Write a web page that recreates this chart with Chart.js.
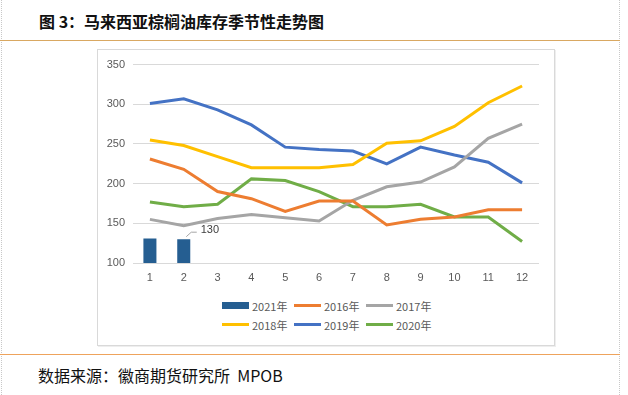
<!DOCTYPE html>
<html>
<head>
<meta charset="utf-8">
<script src="https://cdn.jsdelivr.net/npm/chart.js@4"></script>
<style>
  body { margin: 0; background: #fff; }
  .page { position: relative; width: 628px; height: 395px; overflow: hidden; background: #fff; }
  .edge { position: absolute; top: 0; bottom: 0; left: 1px; width: 617px; border-left: 1px dotted #c8c8c8; border-right: 1px dotted #c8c8c8; }
  .title { position: absolute; left: 39px; top: 9px; font: bold 16px "Noto Sans CJK SC", sans-serif; color: #111; white-space: pre; }
  .rule-top { position: absolute; left: 0; top: 40px; width: 620px; height: 1px; background: #d9a862; }
  .rule-bot { position: absolute; left: 0; top: 354px; width: 620px; height: 1px; background: #eea35c; }
  .box { position: absolute; left: 97px; top: 49px; width: 456px; height: 295px; border: 1px solid #d9d9d9; box-shadow: 1px 1px 0 #eeeeee; }
  .chart-wrap { position: absolute; left: 98px; top: 50px; width: 456px; height: 240px; }
  .legend { position: absolute; left: 222px; top: 297px; display: grid; grid-template-columns: 72px 72px 72px; row-gap: 2px; font: 11px "Noto Sans CJK SC", sans-serif; color: #595959; }
  .legend .item { display: flex; align-items: center; height: 17px; white-space: nowrap; }
  .legend .sw { width: 27px; margin-right: 3px; }
  .footer { position: absolute; left: 38px; top: 363px; font: 16px "Noto Sans CJK SC", sans-serif; color: #111; white-space: pre; }
</style>
</head>
<body>
<div class="page">
  <div class="edge"></div>
  <div class="title">图 3：马来西亚棕榈油库存季节性走势图</div>
  <div class="rule-top"></div>
  <div class="box"></div>
  <div class="chart-wrap"><canvas id="myChart"></canvas></div>
  <div class="legend" id="legend"></div>
  <div class="rule-bot"></div>
  <div class="footer">数据来源：徽商期货研究所  MPOB</div>
</div>
<script>
// 月份
let months = ['1', '2', '3', '4', '5', '6', '7', '8', '9', '10', '11', '12'];

// 各年库存（万吨），读图估计
let y2021 = [131, 130, null, null, null, null, null, null, null, null, null, null];
let y2016 = [231, 218, 190, 181, 165, 178, 178, 148, 155, 158, 167, 167];
let y2017 = [155, 147, 156, 161, 157, 153, 179, 196, 202, 221, 257, 275];
let y2018 = [255, 248, 234, 220, 220, 220, 224, 251, 254, 272, 302, 323];
let y2019 = [301, 307, 293, 274, 246, 243, 241, 225, 246, 236, 227, 201];
let y2020 = [177, 171, 174, 206, 204, 190, 171, 171, 174, 158, 158, 127];

let yTicks = [100, 150, 200, 250, 300, 350];

let names = ['2021年', '2016年', '2017年', '2018年', '2019年', '2020年'];
let colors = ['#255e91', '#ed7d31', '#a5a5a5', '#ffc000', '#4472c4', '#70ad47'];

function lineSet(i, data) {
    return {
        type: 'line',
        label: names[i],
        data: data,
        borderColor: colors[i],
        backgroundColor: colors[i],
        borderWidth: 3,
        pointRadius: 0,
        tension: 0,
        fill: false,
        order: 1
    };
}

// 柱子上的数据标签 130（带引线）
const barLabel = {
    id: 'barLabel',
    afterDatasetsDraw(chart) {
        const meta = chart.getDatasetMeta(0);
        const bar = meta.data[1];
        const ctx = chart.ctx;
        ctx.save();
        ctx.strokeStyle = '#a6a6a6';
        ctx.lineWidth = 1;
        ctx.beginPath();
        ctx.moveTo(bar.x + 2.5, bar.y - 2.5);
        ctx.lineTo(bar.x + 7.5, bar.y - 7);
        ctx.lineTo(bar.x + 13, bar.y - 7);
        ctx.stroke();
        ctx.fillStyle = '#404040';
        ctx.font = '11px "Liberation Sans", sans-serif';
        ctx.textBaseline = 'middle';
        ctx.textAlign = 'left';
        ctx.fillText(String(y2021[1]), bar.x + 17, bar.y - 9);
        ctx.restore();
    }
};

const ctx = document.getElementById('myChart').getContext('2d');
const myChart = new Chart(ctx, {
    type: 'bar',
    data: {
        labels: months,
        datasets: [
            {
                type: 'bar',
                label: names[0],
                data: y2021,
                backgroundColor: colors[0],
                borderWidth: 0,
                barPercentage: 0.385,
                categoryPercentage: 1,
                order: 2
            },
            lineSet(1, y2016),
            lineSet(2, y2017),
            lineSet(3, y2018),
            lineSet(4, y2019),
            lineSet(5, y2020)
        ]
    },
    options: {
        responsive: true,
        maintainAspectRatio: false,
        animation: false,
        layout: { padding: { top: 14, right: 15, left: 0, bottom: 0 } },
        plugins: {
            legend: { display: false },
            tooltip: { enabled: false }
        },
        scales: {
            x: {
                offset: true,
                grid: { display: false, drawTicks: false },
                border: { display: false },
                ticks: { color: '#595959', font: { size: 11, family: '"Liberation Sans", sans-serif' }, padding: 8, maxRotation: 0 },
                afterFit: (s) => { s.height = 27; }
            },
            y: {
                min: 100,
                max: 350,
                afterBuildTicks: (s) => { s.ticks = yTicks.map(v => ({ value: v })); },
                grid: { color: '#d9d9d9', drawTicks: false },
                border: { display: false },
                ticks: { color: '#595959', font: { size: 11, family: '"Liberation Sans", sans-serif' }, padding: 8 },
                afterFit: (s) => { s.width = 35; }
            }
        }
    },
    plugins: [barLabel]
});

// 图例（两行三列）
let legendBox = document.getElementById('legend');
myChart.data.datasets.forEach((ds, i) => {
    let item = document.createElement('div');
    item.className = 'item';
    let sw = document.createElement('span');
    sw.className = 'sw';
    sw.style.height = ds.type === 'bar' ? '7px' : '3px';
    sw.style.background = colors[i];
    let txt = document.createElement('span');
    txt.textContent = ds.label;
    item.appendChild(sw);
    item.appendChild(txt);
    legendBox.appendChild(item);
});
</script>
</body>
</html>
